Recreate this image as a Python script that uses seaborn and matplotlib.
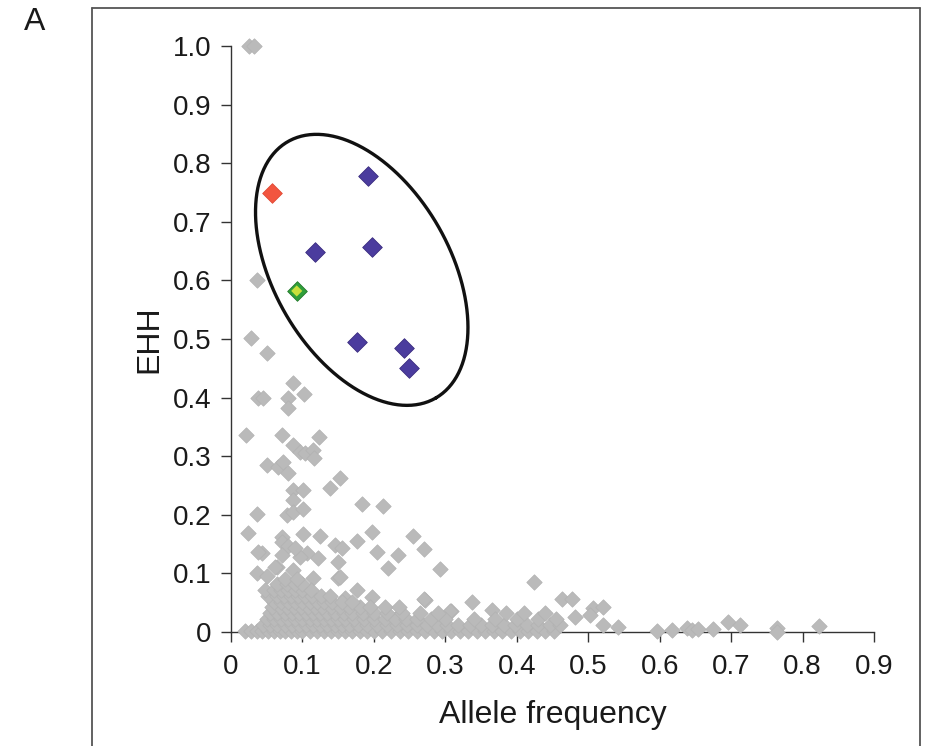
import numpy as np
import pandas as pd
import matplotlib
matplotlib.use("Agg")
import matplotlib.pyplot as plt
import seaborn as sns
from matplotlib.lines import Line2D
from matplotlib.ticker import FuncFormatter

# ---------------- data ----------------
grey_x = [
    0.025, 0.032, 0.036, 0.028, 0.050, 0.087, 0.038, 0.045, 0.080, 0.102, 0.080,
    0.021, 0.071, 0.123, 0.087, 0.097, 0.104, 0.115, 0.116, 0.050, 0.066, 0.073, 0.080,
    0.087, 0.101, 0.087, 0.139, 0.153, 0.183, 0.213, 0.036, 0.078, 0.087, 0.101,
    0.024, 0.071, 0.101, 0.125, 0.197, 0.176, 0.255, 0.071, 0.080, 0.146, 0.155,
    0.043, 0.204, 0.270, 0.234, 0.106, 0.097, 0.071, 0.122, 0.150, 0.064, 0.087,
    0.220, 0.293, 0.036, 0.050, 0.115, 0.150, 0.176, 0.272, 0.424, 0.337, 0.308,
    0.365, 0.463, 0.477, 0.507, 0.521, 0.482, 0.503, 0.521, 0.542, 0.596, 0.617,
    0.638, 0.645, 0.654, 0.675, 0.696, 0.712, 0.764, 0.764, 0.823, 0.160, 0.197,
    0.270, 0.307, 0.038, 0.062, 0.090, 0.153,
    # dense band near the axis
    0.020, 0.028, 0.036, 0.044, 0.052, 0.060, 0.068, 0.076, 0.084, 0.092, 0.100,
    0.110, 0.120, 0.130, 0.140, 0.150, 0.160, 0.170, 0.180, 0.190, 0.200, 0.212,
    0.224, 0.236, 0.248, 0.260, 0.272, 0.284, 0.296, 0.308, 0.320, 0.332, 0.344,
    0.356, 0.368, 0.380, 0.392, 0.404, 0.416, 0.428, 0.440, 0.452,
    0.045, 0.055, 0.065, 0.075, 0.085, 0.095, 0.105, 0.115, 0.125, 0.135, 0.145,
    0.155, 0.165, 0.178, 0.190, 0.205, 0.218, 0.232, 0.246, 0.260, 0.274, 0.288,
    0.302, 0.318, 0.334, 0.350, 0.366, 0.382, 0.398, 0.414, 0.430, 0.446, 0.460,
    0.050, 0.060, 0.070, 0.080, 0.090, 0.100, 0.110, 0.120, 0.130, 0.140, 0.150,
    0.160, 0.172, 0.186, 0.200, 0.215, 0.230, 0.245, 0.260, 0.280, 0.300, 0.340,
    0.370, 0.400, 0.430, 0.455,
    0.055, 0.065, 0.075, 0.085, 0.095, 0.105, 0.115, 0.125, 0.135, 0.145, 0.158,
    0.170, 0.185, 0.200, 0.218, 0.240, 0.265, 0.290, 0.385, 0.410, 0.440,
    0.058, 0.068, 0.078, 0.088, 0.098, 0.108, 0.118, 0.128, 0.140, 0.152, 0.165,
    0.180, 0.195, 0.215, 0.235,
    0.060, 0.070, 0.080, 0.090, 0.100, 0.110, 0.120, 0.130, 0.142, 0.155, 0.170,
    0.052, 0.064, 0.074, 0.084, 0.094, 0.104, 0.114, 0.126, 0.138,
    0.048, 0.060, 0.070, 0.080, 0.090, 0.100, 0.112,
    0.065, 0.078, 0.090, 0.100,
    0.075, 0.092,
]
grey_y = [
    1.000, 1.000, 0.600, 0.501, 0.476, 0.425, 0.400, 0.400, 0.400, 0.406, 0.382,
    0.336, 0.336, 0.332, 0.319, 0.307, 0.305, 0.310, 0.297, 0.285, 0.282, 0.290, 0.271,
    0.242, 0.242, 0.225, 0.246, 0.262, 0.218, 0.215, 0.201, 0.200, 0.205, 0.210,
    0.169, 0.162, 0.167, 0.164, 0.171, 0.155, 0.164, 0.154, 0.146, 0.148, 0.143,
    0.135, 0.137, 0.142, 0.131, 0.135, 0.128, 0.131, 0.126, 0.119, 0.111, 0.106,
    0.109, 0.107, 0.100, 0.096, 0.092, 0.092, 0.072, 0.055, 0.086, 0.052, 0.035,
    0.038, 0.056, 0.056, 0.041, 0.043, 0.026, 0.029, 0.012, 0.009, 0.002, 0.003,
    0.007, 0.004, 0.005, 0.005, 0.017, 0.012, 0.007, 0.000, 0.010, 0.058, 0.060,
    0.056, 0.036, 0.137, 0.111, 0.143, 0.094,
    0.002, 0.002, 0.002, 0.002, 0.002, 0.002, 0.002, 0.002, 0.002, 0.002, 0.002,
    0.002, 0.002, 0.002, 0.002, 0.002, 0.002, 0.002, 0.002, 0.002, 0.002, 0.002,
    0.002, 0.002, 0.002, 0.002, 0.002, 0.002, 0.002, 0.002, 0.002, 0.002, 0.002,
    0.002, 0.002, 0.002, 0.002, 0.002, 0.002, 0.002, 0.002, 0.002,
    0.012, 0.012, 0.012, 0.012, 0.012, 0.012, 0.012, 0.012, 0.012, 0.012, 0.012,
    0.012, 0.012, 0.012, 0.012, 0.012, 0.012, 0.012, 0.012, 0.012, 0.012, 0.012,
    0.012, 0.012, 0.012, 0.012, 0.012, 0.012, 0.012, 0.012, 0.012, 0.012, 0.012,
    0.022, 0.022, 0.022, 0.022, 0.022, 0.022, 0.022, 0.022, 0.022, 0.022, 0.022,
    0.022, 0.022, 0.022, 0.022, 0.022, 0.022, 0.022, 0.022, 0.022, 0.022, 0.022,
    0.022, 0.022, 0.022, 0.022,
    0.032, 0.032, 0.032, 0.032, 0.032, 0.032, 0.032, 0.032, 0.032, 0.032, 0.032,
    0.032, 0.032, 0.032, 0.032, 0.032, 0.032, 0.032, 0.032, 0.032, 0.032,
    0.042, 0.042, 0.042, 0.042, 0.042, 0.042, 0.042, 0.042, 0.042, 0.042, 0.042,
    0.042, 0.042, 0.042, 0.042,
    0.052, 0.052, 0.052, 0.052, 0.052, 0.052, 0.052, 0.052, 0.052, 0.052, 0.052,
    0.062, 0.062, 0.062, 0.062, 0.062, 0.062, 0.062, 0.062, 0.062,
    0.072, 0.072, 0.072, 0.072, 0.072, 0.072, 0.072,
    0.082, 0.082, 0.082, 0.082,
    0.090, 0.090,
]
purple_x = [0.192, 0.197, 0.118, 0.176, 0.242, 0.249]
purple_y = [0.778, 0.657, 0.648, 0.495, 0.485, 0.450]
red_x = [0.057]
red_y = [0.749]
green_x = [0.092]
green_y = [0.582]

x_ticks = [0, 0.1, 0.2, 0.3, 0.4, 0.5, 0.6, 0.7, 0.8, 0.9]
y_ticks = [0, 0.1, 0.2, 0.3, 0.4, 0.5, 0.6, 0.7, 0.8, 0.9, 1.0]
x_label = "Allele frequency"
y_label = "EHH"
panel_label = "A"

# ---------------- style ----------------
sns.set_style("ticks")
plt.rcParams["font.family"] = ["Liberation Sans", "DejaVu Sans"]

W, H = 927, 746
fig = plt.figure(figsize=(W / 100, H / 100), dpi=100)
ax = fig.add_axes([231 / W, 114 / H, 643 / W, 586 / H])

grey_df = pd.DataFrame({"x": grey_x, "y": grey_y})
purple_df = pd.DataFrame({"x": purple_x, "y": purple_y})
red_df = pd.DataFrame({"x": red_x, "y": red_y})
green_df = pd.DataFrame({"x": green_x, "y": green_y})

sns.scatterplot(data=grey_df, x="x", y="y", ax=ax, marker="D", s=62,
                color="#bababa", edgecolor="#b2b2b2", linewidth=0.5, clip_on=False, zorder=3)
sns.scatterplot(data=purple_df, x="x", y="y", ax=ax, marker="D", s=100,
                color="#4b3c9e", edgecolor="#3a2d80", linewidth=0.6, clip_on=False, zorder=4)
sns.scatterplot(data=red_df, x="x", y="y", ax=ax, marker="D", s=100,
                color="#f2553f", edgecolor="#e04a35", linewidth=0.6, clip_on=False, zorder=4)
sns.scatterplot(data=green_df, x="x", y="y", ax=ax, marker="D", s=100,
                color="#2f9e3a", edgecolor="#237a2c", linewidth=0.6, clip_on=False, zorder=4)
sns.scatterplot(data=green_df, x="x", y="y", ax=ax, marker="D", s=32,
                color="#c9df3c", edgecolor="none", linewidth=0, clip_on=False, zorder=5)

ax.set_xlim(0, 0.9)
ax.set_ylim(0, 1.0)
ax.set_xticks(x_ticks)
ax.set_yticks(y_ticks)
fmt = FuncFormatter(lambda v, p: "0" if abs(v) < 1e-9 else f"{v:.1f}")
ax.xaxis.set_major_formatter(fmt)
ax.yaxis.set_major_formatter(fmt)
ax.tick_params(axis="both", direction="out", length=7, width=1.0, color="#333333",
               labelsize=20, labelcolor="#1a1a1a")
ax.tick_params(axis="x", pad=9)
ax.tick_params(axis="y", pad=7)
for side in ["top", "right"]:
    ax.spines[side].set_visible(False)
for side in ["left", "bottom"]:
    ax.spines[side].set_color("#333333")
    ax.spines[side].set_linewidth(1.0)
ax.set_xlabel(x_label, fontsize=23, color="#1a1a1a", labelpad=14)
ax.set_ylabel(y_label, fontsize=23, color="#1a1a1a", labelpad=6)
ax.patch.set_alpha(0)

# ellipse drawn around the highlighted group (pixel-shaped, mapped to data units)
px_x = 643 / 0.9
px_y = 586 / 1.0
cx, cy = 0.183, 0.618
a_px, b_px = 148, 88
theta = np.deg2rad(-60)
t = np.linspace(0, 2 * np.pi, 400)
dx = a_px * np.cos(t) * np.cos(theta) - b_px * np.sin(t) * np.sin(theta)
dy = a_px * np.cos(t) * np.sin(theta) + b_px * np.sin(t) * np.cos(theta)
ax.plot(cx + dx / px_x, cy + dy / px_y, color="#111111", lw=2.4, zorder=6, clip_on=False)

# outer frame (open at the bottom)
fx0, fx1, fy1 = 92 / W, 920 / W, 1 - 8 / H
for xs, ys in [([fx0, fx0], [0, fy1]), ([fx0, fx1], [fy1, fy1]), ([fx1, fx1], [fy1, 0])]:
    fig.add_artist(Line2D(xs, ys, transform=fig.transFigure, color="#555555", lw=1.3))

fig.text(35 / W, 1 - 22 / H, panel_label, fontsize=23, color="#1a1a1a",
         ha="center", va="center")

fig.savefig("out.png", dpi=100)
